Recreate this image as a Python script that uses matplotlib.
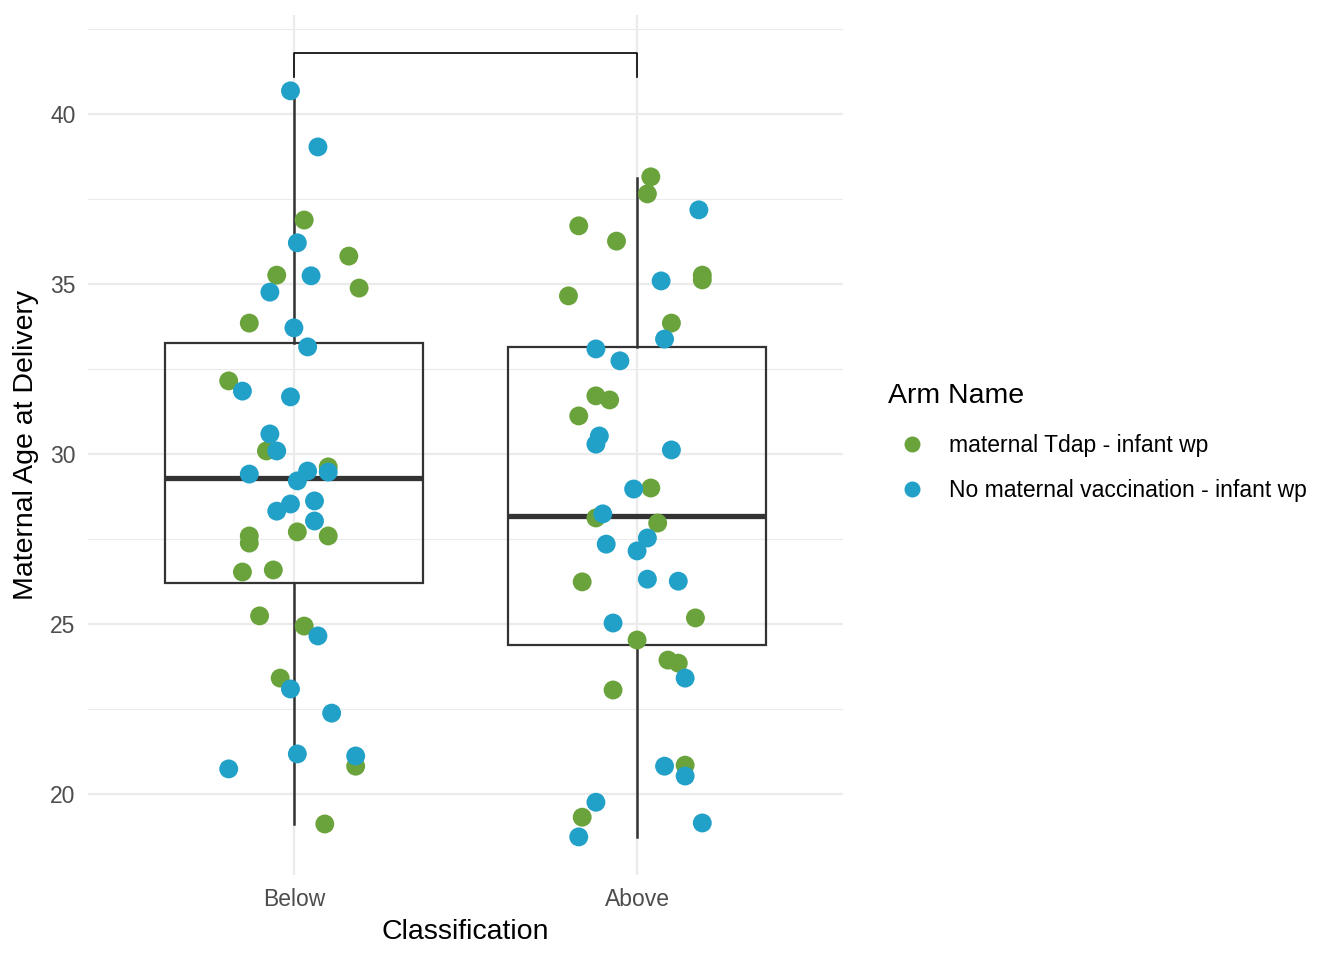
import matplotlib.pyplot as plt
from matplotlib.lines import Line2D

plt.rcParams["font.family"] = ["Liberation Sans", "DejaVu Sans"]

categories = ["Below", "Above"]
arm_names = ["maternal Tdap - infant wp", "No maternal vaccination - infant wp"]
arm_colors = ["#6AA33B", "#21A0C8"]

# jittered points: horizontal offset from category centre, and age
below_tdap_dx = [0.03, 0.16, -0.05, 0.19, -0.13, -0.19, -0.08, 0.10, -0.13, -0.13, 0.01, 0.10, -0.15, -0.06, -0.10, 0.03, -0.04, 0.18, 0.09]
below_tdap_age = [36.88, 35.82, 35.26, 34.88, 33.85, 32.15, 30.09, 29.62, 27.59, 27.38, 27.71, 27.59, 26.53, 26.59, 25.24, 24.94, 23.41, 20.82, 19.12]
below_none_dx = [-0.01, 0.07, 0.01, 0.05, -0.07, 0.00, 0.04, -0.15, -0.01, -0.07, -0.05, -0.13, 0.04, 0.10, 0.01, -0.05, -0.01, 0.06, 0.06, 0.07, -0.01, 0.11, 0.01, 0.18, -0.19]
below_none_age = [40.68, 39.03, 36.21, 35.24, 34.76, 33.71, 33.15, 31.85, 31.68, 30.59, 30.09, 29.41, 29.50, 29.47, 29.21, 28.32, 28.53, 28.62, 28.03, 24.65, 23.09, 22.38, 21.18, 21.12, 20.74]

above_tdap_dx = [0.04, 0.03, -0.17, -0.06, -0.20, 0.19, 0.19, 0.10, -0.17, -0.12, -0.08, 0.04, 0.06, -0.12, -0.16, 0.17, 0.00, 0.09, 0.12, -0.07, 0.14, -0.16]
above_tdap_age = [38.15, 37.65, 36.71, 36.26, 34.65, 35.26, 35.12, 33.85, 31.12, 31.71, 31.59, 29.00, 27.97, 28.12, 26.24, 25.18, 24.53, 23.94, 23.85, 23.06, 20.85, 19.32]
above_none_dx = [0.18, 0.07, 0.08, -0.12, -0.05, -0.11, -0.12, 0.10, -0.01, -0.10, -0.09, 0.03, 0.00, 0.03, 0.12, -0.07, 0.14, 0.08, 0.14, -0.12, 0.19, -0.17]
above_none_age = [37.18, 35.09, 33.38, 33.09, 32.74, 30.53, 30.29, 30.12, 28.97, 28.24, 27.35, 27.53, 27.15, 26.32, 26.26, 25.03, 23.41, 20.82, 20.53, 19.76, 19.15, 18.74]

# box summaries: lower whisker, q1, median, q3, upper whisker
box_whislo = [19.12, 18.74]
box_q1 = [26.21, 24.38]
box_med = [29.29, 28.18]
box_q3 = [33.26, 33.15]
box_whishi = [40.68, 38.12]

bracket_y = 41.79
bracket_tick = 41.09

fig = plt.figure(figsize=(13.44, 9.6), dpi=100)
ax = fig.add_axes([88 / 1344, 1 - 875 / 960, (843 - 88) / 1344, (875 - 15) / 960])

stats = []
for i in range(2):
    stats.append(dict(whislo=box_whislo[i], q1=box_q1[i], med=box_med[i],
                      q3=box_q3[i], whishi=box_whishi[i], fliers=[]))
ax.bxp(stats, positions=[1, 2], widths=0.75, showcaps=False, patch_artist=True,
       boxprops=dict(facecolor="none", edgecolor="#333333", linewidth=1.6),
       whiskerprops=dict(color="#333333", linewidth=1.8),
       medianprops=dict(color="#333333", linewidth=3.8), zorder=2)

groups = [
    (1, below_tdap_dx, below_tdap_age, 0),
    (1, below_none_dx, below_none_age, 1),
    (2, above_tdap_dx, above_tdap_age, 0),
    (2, above_none_dx, above_none_age, 1),
]
for pos, dx, age, arm in groups:
    ax.scatter([pos + d for d in dx], age, s=185, color=arm_colors[arm],
               edgecolors="none", zorder=3)

ax.plot([1, 1, 2, 2], [bracket_tick, bracket_y, bracket_y, bracket_tick],
        color="black", linewidth=1.2, zorder=4)

ax.set_xlim(0.4, 2.6)
ax.set_ylim(17.62, 42.91)
ax.set_xticks([1, 2])
ax.set_xticklabels(categories)
ax.set_yticks([20, 25, 30, 35, 40])
ax.set_yticks([22.5, 27.5, 32.5, 37.5, 42.5], minor=True)
ax.grid(which="major", color="#EBEBEB", linewidth=1.6)
ax.grid(which="minor", axis="y", color="#EBEBEB", linewidth=0.8)
ax.set_axisbelow(True)
for s in ax.spines.values():
    s.set_visible(False)
ax.tick_params(which="both", length=0, labelsize=16.5, labelcolor="#4D4D4D", pad=9)

ax.set_xlabel("Classification", fontsize=20.5, labelpad=6)
ax.set_ylabel("Maternal Age at Delivery", fontsize=20.5, labelpad=8)

handles = [Line2D([], [], marker="o", linestyle="none", markersize=11.5,
                  markerfacecolor=c, markeredgecolor="none") for c in arm_colors]
fig.text(888 / 1344, 1 - 396 / 960, "Arm Name", fontsize=20.5, va="center", ha="left")
fig.legend(handles, arm_names, loc="center left",
           bbox_to_anchor=(880 / 1344, 1 - 468 / 960), frameon=False,
           fontsize=16.5, handletextpad=0.6, labelspacing=1.0, borderaxespad=0)

fig.savefig("out.png", dpi=100)
